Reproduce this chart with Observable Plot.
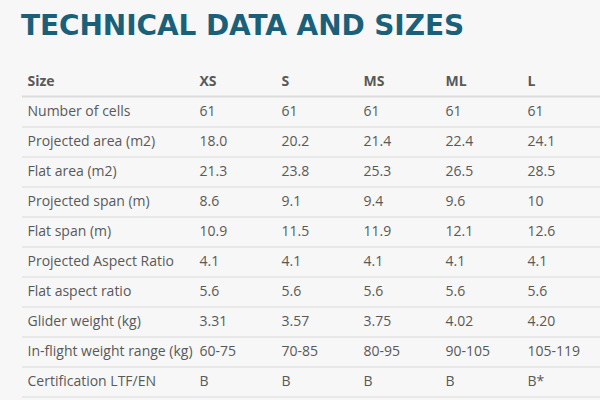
<!DOCTYPE html>
<html><head><meta charset="utf-8">
<script src="https://cdn.jsdelivr.net/npm/d3@7"></script>
<script src="https://cdn.jsdelivr.net/npm/@observablehq/plot@0.6"></script>
<style>
html,body{margin:0;padding:0;background:#f7f7f7;width:600px;height:400px;overflow:hidden}
#title{height:60px;box-sizing:border-box;padding:12px 0 0 21px;white-space:nowrap}
#title span{font:bold 28px "DejaVu Sans";line-height:28px;color:#1a6079;display:inline-block}
#chart svg{display:block}
</style></head><body>
<div id="title"><span id="tt"></span></div>
<div id="chart"></div>
<script>
const title = "TECHNICAL DATA AND SIZES";
const headerLabel = "Size";
const sizes = ["XS", "S", "MS", "ML", "L"];
const rowLabels = [
  "Number of cells",
  "Projected area (m2)",
  "Flat area (m2)",
  "Projected span (m)",
  "Flat span (m)",
  "Projected Aspect Ratio",
  "Flat aspect ratio",
  "Glider weight (kg)",
  "In-flight weight range (kg)",
  "Certification LTF/EN"
];
const numberOfCells = ["61", "61", "61", "61", "61"];
const projectedArea = ["18.0", "20.2", "21.4", "22.4", "24.1"];
const flatArea = ["21.3", "23.8", "25.3", "26.5", "28.5"];
const projectedSpan = ["8.6", "9.1", "9.4", "9.6", "10"];
const flatSpan = ["10.9", "11.5", "11.9", "12.1", "12.6"];
const projectedAspectRatio = ["4.1", "4.1", "4.1", "4.1", "4.1"];
const flatAspectRatio = ["5.6", "5.6", "5.6", "5.6", "5.6"];
const gliderWeight = ["3.31", "3.57", "3.75", "4.02", "4.20"];
const weightRange = ["60-75", "70-85", "80-95", "90-105", "105-119"];
const certification = ["B", "B", "B", "B", "B*"];

const rowValues = [numberOfCells, projectedArea, flatArea, projectedSpan, flatSpan,
  projectedAspectRatio, flatAspectRatio, gliderWeight, weightRange, certification];

const cells = [];
rowLabels.forEach((row, i) => sizes.forEach((size, j) => cells.push({row, size, value: rowValues[i][j]})));

// title, stretched to the reference width
const tt = document.getElementById("tt");
tt.textContent = title;
const w0 = tt.getBoundingClientRect().width;
const target = 443;
tt.style.letterSpacing = ((target - w0) / title.length) + "px";

const textColor = "#595959";
const chart = Plot.plot({
  width: 600,
  height: 340,
  marginLeft: 22,
  marginRight: 0,
  marginTop: 0,
  marginBottom: 0,
  axis: null,
  x: {type: "point", domain: sizes, range: [199, 527], padding: 0},
  y: {type: "point", domain: [headerLabel, ...rowLabels], range: [18, 323], padding: 0},
  style: {background: "transparent", fontFamily: "'Open Sans'", fontSize: "14px", color: textColor},
  marks: [
    Plot.ruleY([headerLabel], {y: d => d, dy: 15, stroke: "#dcdcdc", strokeWidth: 2}),
    Plot.ruleY(rowLabels, {y: d => d, dy: 15.5, stroke: "#e3e3e3", strokeWidth: 1.5}),
    Plot.text([headerLabel], {y: d => d, frameAnchor: "left", dx: 5, textAnchor: "start", fontWeight: "bold", fill: textColor}),
    Plot.text(sizes, {x: d => d, y: () => headerLabel, textAnchor: "start", fontWeight: "bold", fill: textColor}),
    Plot.text(rowLabels, {y: d => d, frameAnchor: "left", dx: 5, textAnchor: "start", fill: textColor}),
    Plot.text(cells, {x: "size", y: "row", text: "value", textAnchor: "start", fill: textColor})
  ]
});
document.getElementById("chart").appendChild(chart);
</script>
</body></html>
